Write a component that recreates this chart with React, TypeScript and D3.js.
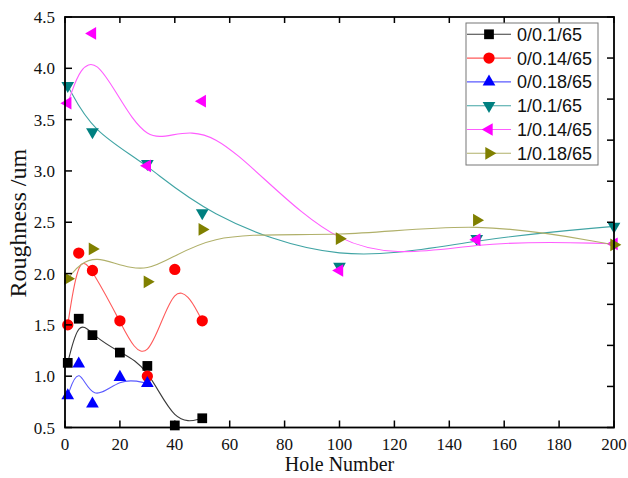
import * as d3 from 'd3';

// hole numbers for the two groups of samples
const holesShort = [1, 5, 10, 20, 30, 40, 50];
const holesBlue = [1, 5, 10, 20, 30];
const holesLong = [1, 10, 30, 50, 100, 150, 200];

const black = [1.13, 1.56, 1.4, 1.23, 1.1, 0.52, 0.59];
const red = [1.5, 2.2, 2.03, 1.54, 1.0, 2.04, 1.54];
const blue = [0.81, 1.12, 0.73, 0.99, 0.93];
const teal = [3.83, 3.38, 3.07, 2.59, 2.07, 2.34, 2.46];
const magenta = [3.66, 4.34, 3.05, 3.68, 2.03, 2.33, 2.29];
const olive = [1.95, 2.24, 1.92, 2.43, 2.34, 2.52, 2.28];

const seriesNames = ['0/0.1/65', '0/0.14/65', '0/0.18/65', '1/0.1/65', '1/0.14/65', '1/0.18/65'];
const xTicks = [0, 20, 40, 60, 80, 100, 120, 140, 160, 180, 200];
const yTicks = [0.5, 1.0, 1.5, 2.0, 2.5, 3.0, 3.5, 4.0, 4.5];

const series = [
  { name: seriesNames[0], xs: holesShort, ys: black, fill: '#000000', line: '#3a3a3a', sym: d3.symbolSquare, size: 95, rot: 0 },
  { name: seriesNames[1], xs: holesShort, ys: red, fill: '#ff0000', line: '#ff5a5a', sym: d3.symbolCircle, size: 100, rot: 0 },
  { name: seriesNames[2], xs: holesBlue, ys: blue, fill: '#0000ff', line: '#5a5aff', sym: d3.symbolTriangle, size: 70, rot: 0 },
  { name: seriesNames[3], xs: holesLong, ys: teal, fill: '#008080', line: '#40a4a4', sym: d3.symbolTriangle, size: 70, rot: 180 },
  { name: seriesNames[4], xs: holesLong, ys: magenta, fill: '#ff00ff', line: '#ff5cff', sym: d3.symbolTriangle, size: 70, rot: -90 },
  { name: seriesNames[5], xs: holesLong, ys: olive, fill: '#808000', line: '#b0b06a', sym: d3.symbolTriangle, size: 70, rot: 90 },
];

const W = 628;
const H = 478;
const left = 65;
const right = 614;
const top = 17;
const bottom = 427.5;

const serif = "'Liberation Serif', 'Times New Roman', serif";
const sans = "'Liberation Sans', Arial, sans-serif";

export default function App() {
  const x = d3.scaleLinear().domain([0, 200]).range([left, right]);
  const y = d3.scaleLinear().domain([0.5, 4.5]).range([bottom, top]);
  // right axis has its own ten even divisions
  const yRight = d3.scaleLinear().domain([0, 10]).range([bottom, top]);

  const line = d3
    .line<[number, number]>()
    .x(d => x(d[0]))
    .y(d => y(d[1]))
    .curve(d3.curveBasis);

  const legendX = 466;
  const legendY = 23;
  const rowH = 23.8;

  return (
    <svg width={W} height={H} style={{ position: 'absolute', left: 0, top: 0, background: '#fff' }}>
      {series.map(s => {
        const pts = s.xs.map((v, i) => [v, s.ys[i]] as [number, number]);
        const sym = d3.symbol().type(s.sym).size(s.size)();
        return (
          <g key={s.name}>
            <path d={line(pts) || ''} fill="none" stroke={s.line} strokeWidth={1.1} />
            {pts.map((p, i) => (
              <path
                key={i}
                d={sym || ''}
                fill={s.fill}
                transform={`translate(${x(p[0])},${y(p[1])}) rotate(${s.rot})`}
              />
            ))}
          </g>
        );
      })}

      {/* frame */}
      <rect x={left} y={top} width={right - left} height={bottom - top} fill="none" stroke="#000" strokeWidth={1.8} />

      {/* bottom and top ticks */}
      {xTicks.map(t => (
        <g key={t}>
          <line x1={x(t)} x2={x(t)} y1={bottom} y2={bottom - 7} stroke="#000" strokeWidth={1.5} />
          <line x1={x(t)} x2={x(t)} y1={top} y2={top + 6} stroke="#000" strokeWidth={1.5} />
          <text x={x(t)} y={449.5} textAnchor="middle" fontFamily={serif} fontSize={17} fill="#111">
            {t}
          </text>
        </g>
      ))}

      {/* left ticks */}
      {yTicks.map(t => (
        <g key={t}>
          <line x1={left} x2={left + 7} y1={y(t)} y2={y(t)} stroke="#000" strokeWidth={1.5} />
          <text x={55} y={y(t) + 6} textAnchor="end" fontFamily={serif} fontSize={17} fill="#111">
            {d3.format('.1f')(t)}
          </text>
        </g>
      ))}

      {/* right ticks */}
      {yRight.ticks(10).map(t => (
        <line key={t} x1={right} x2={right - 7} y1={yRight(t)} y2={yRight(t)} stroke="#000" strokeWidth={1.5} />
      ))}

      <text x={(left + right) / 2} y={470.5} textAnchor="middle" fontFamily={serif} fontSize={20} fill="#111">
        Hole Number
      </text>
      <text
        transform={`translate(26,${(top + bottom) / 2 + 1}) rotate(-90)`}
        textAnchor="middle"
        fontFamily={serif}
        fontSize={24}
        fill="#111"
      >
        Roughness /um
      </text>

      {/* legend */}
      <rect x={legendX} y={legendY} width={132} height={142} fill="#fff" stroke="#777" strokeWidth={1} />
      {series.map((s, i) => {
        const cy = legendY + 11.3 + i * rowH;
        const sym = d3.symbol().type(s.sym).size(s.size)();
        return (
          <g key={s.name}>
            <line x1={legendX + 1} x2={legendX + 45} y1={cy} y2={cy} stroke={s.line} strokeWidth={1.1} />
            <path d={sym || ''} fill={s.fill} transform={`translate(${legendX + 23},${cy}) rotate(${s.rot})`} />
            <text x={legendX + 51} y={cy + 6.5} fontFamily={sans} fontSize={18} fill="#111">
              {s.name}
            </text>
          </g>
        );
      })}
    </svg>
  );
}
